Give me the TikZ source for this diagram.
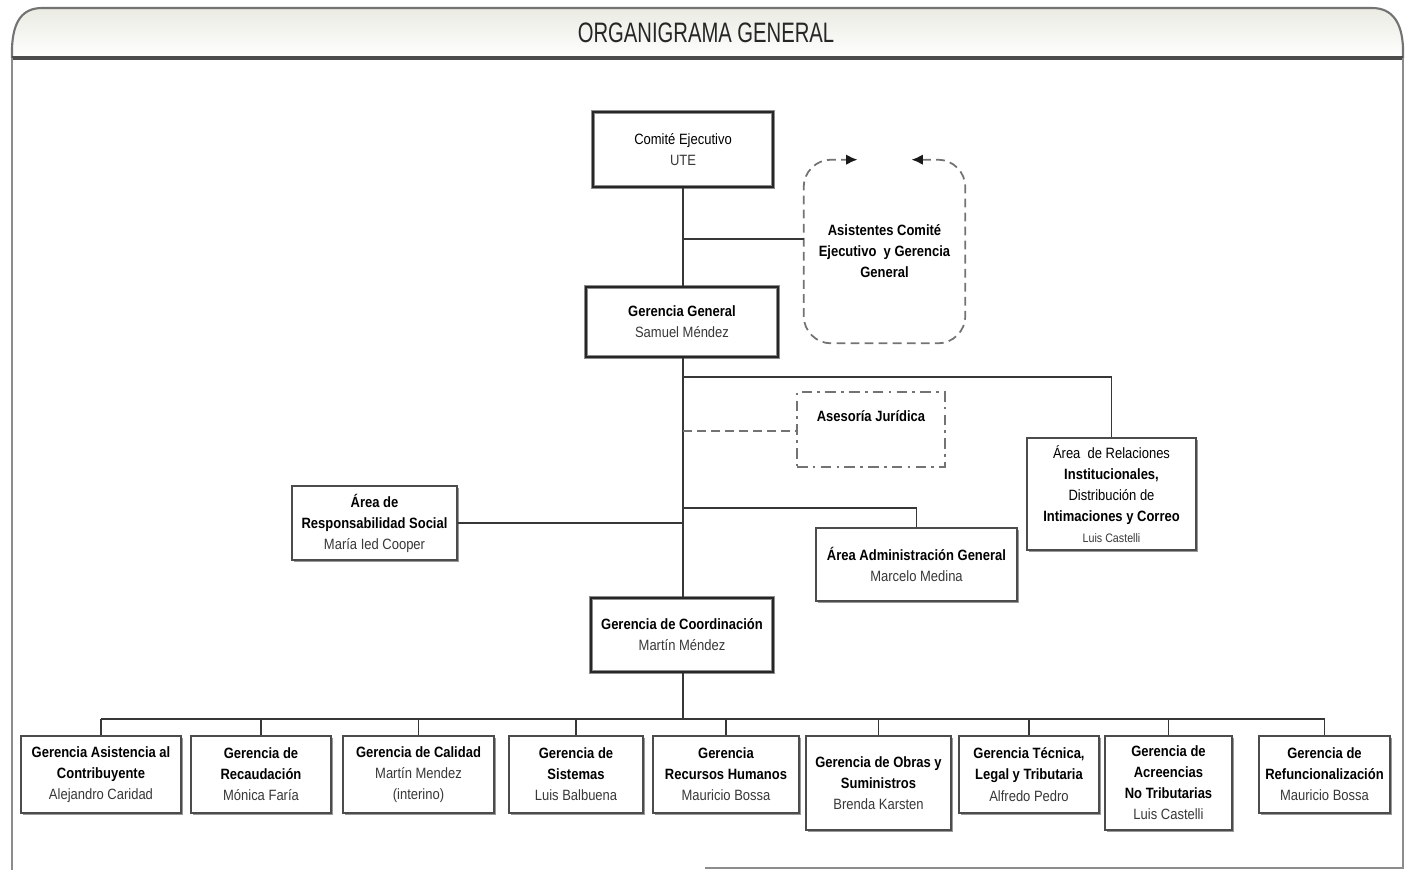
\documentclass[tikz,border=0pt]{standalone}
\usepackage{fontspec}
\setmainfont{Liberation Sans}[FakeStretch=0.87]
\newfontfamily\titlefont{Liberation Sans}[FakeStretch=0.72]
\usetikzlibrary{arrows.meta,shadows,calc}
\newcommand\pname[1]{{\mdseries\color{black!78}#1}}
\definecolor{hdrtop}{RGB}{234,235,226}
\definecolor{lnc}{RGB}{55,55,55}
\tikzset{
  orgbox/.style={draw=black!70, line width=0.7pt, fill=white, align=center,
    inner sep=1pt, font=\fontsize{8.5}{12}\selectfont,
    drop shadow={shadow xshift=0.9pt, shadow yshift=-0.9pt, fill=black!40, opacity=1}},
  mainbox/.style={orgbox, draw=black!45, double=black!85, double distance=0.7pt, line width=0.8pt},
  conn/.style={draw=lnc, line width=0.9pt},
  dconn/.style={draw=black!55, line width=1pt, dash pattern=on 5pt off 3pt},
  txtonly/.style={align=center, inner sep=0pt, font=\fontsize{8.5}{12}\selectfont},
}
\begin{document}
\begin{tikzpicture}[x=0.02cm, y=-0.02cm]
\useasboundingbox (0,0) rectangle (1405,870);
% frame and header
\shade[top color=hdrtop, bottom color=white]
  (12,58) -- (12,48) .. controls (13,22) and (22,8) .. (42,8) -- (1372,8)
  .. controls (1392,8) and (1402,22) .. (1403,48) -- (1403,58) -- cycle;
\draw[black!55, line width=1.2pt]
  (12,58) -- (12,48) .. controls (13,22) and (22,8) .. (42,8) -- (1372,8)
  .. controls (1392,8) and (1402,22) .. (1403,48) -- (1403,58);
\draw[black!70, line width=2pt] (12,58) -- (1403,58);
\draw[black!45, line width=1.1pt] (12,58) -- (12,870);
\draw[black!45, line width=1.1pt] (1403,58) -- (1403,868) -- (705,868);
\node[font=\titlefont\fontsize{16}{18}\selectfont, text=black!85] (title) at (706,33) {ORGANIGRAMA GENERAL};

% top nodes
\node[mainbox, minimum width=3.6cm, minimum height=1.5cm] (comite) at (683,149.5)
  {Comité Ejecutivo\\ \pname{UTE}};
\node[mainbox, minimum width=3.84cm, minimum height=1.4cm] (gg) at (682,322)
  {\textbf{Gerencia General}\\ \pname{Samuel Méndez}};
\node[mainbox, minimum width=3.64cm, minimum height=1.48cm] (coord) at (682,635)
  {\textbf{Gerencia de Coordinación}\\ \pname{Martín Méndez}};

% asistentes (dashed rounded outline with arrows)
\node[txtonly, minimum width=3.22cm, minimum height=3.66cm] (asist) at (884.5,251.5)
  {\textbf{Asistentes Comité}\\ \textbf{Ejecutivo \ y Gerencia}\\ \textbf{General}};
\draw[dconn, rounded corners=0.55cm,
  {Latex[length=6.5pt,width=6pt,color=black!90]}-{Latex[length=6.5pt,width=6pt,color=black!90]}]
  ($(asist.north)+(27,0)$) -- (asist.north east) -- (asist.south east)
  -- (asist.south west) -- (asist.north west) -- ($(asist.north)+(-27,0)$);

% asesoria juridica
\node[txtonly, minimum width=2.96cm, minimum height=1.5cm,
  draw=black!55, line width=1pt, dash pattern=on 6pt off 3pt on 1.5pt off 3pt] (ases) at (871,429.5)
  {\textbf{Asesoría Jurídica}\\ \strut};

\node[orgbox, minimum width=3.38cm, minimum height=2.24cm] (rel) at (1111.5,494)
  {Área \ de Relaciones\\ \textbf{Institucionales,}\\ Distribución de\\ \textbf{Intimaciones y Correo}\\ {\fontsize{7}{12}\selectfont\pname{Luis Castelli}}};
\node[orgbox, minimum width=4.02cm, minimum height=1.46cm] (adm) at (916.5,564.5)
  {\textbf{Área Administración General}\\ \pname{Marcelo Medina}};
\node[orgbox, minimum width=3.3cm, minimum height=1.48cm] (resp) at (374.5,523)
  {\textbf{Área de}\\ \textbf{Responsabilidad Social}\\ \pname{María Ied Cooper}};

% bottom row
\node[orgbox, minimum width=3.2cm, minimum height=1.54cm] (g1) at (101,774.5)
  {\textbf{Gerencia Asistencia al}\\ \textbf{Contribuyente}\\ \pname{Alejandro Caridad}};
\node[orgbox, minimum width=2.8cm, minimum height=1.54cm] (g2) at (261,774.5)
  {\textbf{Gerencia de}\\ \textbf{Recaudación}\\ \pname{Mónica Faría}};
\node[orgbox, minimum width=3.02cm, minimum height=1.54cm] (g3) at (418.5,774.5)
  {\textbf{Gerencia de Calidad}\\ \pname{Martín Mendez}\\ \pname{(interino)}};
\node[orgbox, minimum width=2.68cm, minimum height=1.54cm] (g4) at (576,774.5)
  {\textbf{Gerencia de}\\ \textbf{Sistemas}\\ \pname{Luis Balbuena}};
\node[orgbox, minimum width=2.92cm, minimum height=1.54cm] (g5) at (726,774.5)
  {\textbf{Gerencia}\\ \textbf{Recursos Humanos}\\ \pname{Mauricio Bossa}};
\node[orgbox, minimum width=2.9cm, minimum height=1.88cm] (g6) at (878.5,783)
  {\textbf{Gerencia de Obras y}\\ \textbf{Suministros}\\ \pname{Brenda Karsten}};
\node[orgbox, minimum width=2.8cm, minimum height=1.54cm] (g7) at (1029,774.5)
  {\textbf{Gerencia Técnica,}\\ \textbf{Legal y Tributaria}\\ \pname{Alfredo Pedro}};
\node[orgbox, minimum width=2.54cm, minimum height=1.88cm] (g8) at (1168.5,783)
  {\textbf{Gerencia de}\\ \textbf{Acreencias}\\ \textbf{No Tributarias}\\ \pname{Luis Castelli}};
\node[orgbox, minimum width=2.62cm, minimum height=1.54cm] (g9) at (1324.5,774.5)
  {\textbf{Gerencia de}\\ \textbf{Refuncionalización}\\ \pname{Mauricio Bossa}};

% connectors
\coordinate (j1) at (683,239);
\coordinate (j2) at (683,377);
\coordinate (j3) at (683,431);
\coordinate (j4) at (683,508);
\coordinate (j5) at (683,523);
\coordinate (bus) at (683,719);

\draw[conn] (comite.south) -- (comite.south |- gg.north);
\draw[conn] (j1) -- (j1 -| asist.west);
\draw[conn, line width=1.2pt] (j2 |- gg.south) -- (j2 |- coord.north);
\draw[conn] (j2) -| (rel.north);
\draw[dconn] (j3) -- (j3 -| ases.west);
\draw[conn] (j4) -| (adm.north);
\draw[conn] (resp.east |- j5) -- (j5);
\draw[conn, line width=1.2pt] (bus |- coord.south) -- (bus);
\draw[conn] (bus -| g1.north) -- (bus -| g9.north);
\foreach \g in {g1,g2,g3,g4,g5,g6,g7,g8,g9}
  \draw[conn, line width=0.7pt] (bus -| \g.north) -- (\g.north);
\end{tikzpicture}
\end{document}
